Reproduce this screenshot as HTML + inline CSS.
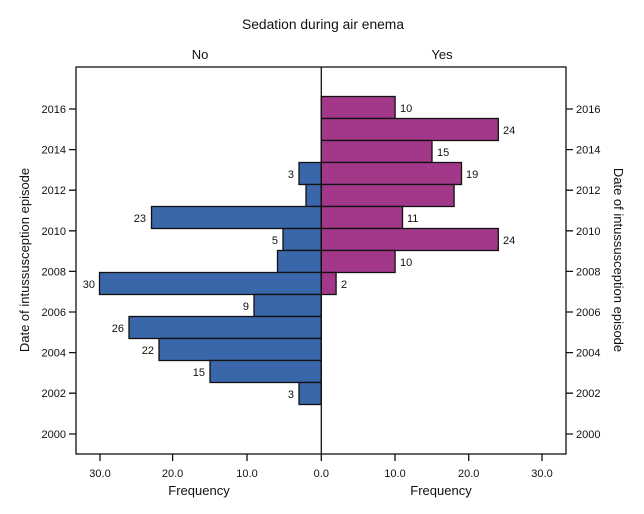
<!DOCTYPE html>
<html><head><meta charset="utf-8"><style>body{margin:0;background:#fff}svg{display:block}text{font-family:"Liberation Sans",sans-serif;fill:#111}</style></head><body>
<svg width="644" height="514" viewBox="0 0 644 514" xmlns="http://www.w3.org/2000/svg">
<text x="242" y="29" font-size="13.5" textLength="162" lengthAdjust="spacingAndGlyphs">Sedation during air enema</text>
<text x="200" y="59" font-size="13" text-anchor="middle">No</text>
<text x="442" y="59" font-size="13" text-anchor="middle">Yes</text>
<g stroke="#111" stroke-width="1.3" fill="#3a66aa">
<rect x="299" y="162.5" width="22.3" height="22"/>
<rect x="306" y="184.5" width="15.3" height="22"/>
<rect x="151.5" y="206.5" width="169.8" height="22"/>
<rect x="283" y="228.5" width="38.3" height="22"/>
<rect x="277.5" y="250.5" width="43.8" height="22"/>
<rect x="99.5" y="272.5" width="221.8" height="22"/>
<rect x="254" y="294.5" width="67.3" height="22"/>
<rect x="129" y="316.5" width="192.3" height="22"/>
<rect x="159" y="338.5" width="162.3" height="22"/>
<rect x="210" y="360.5" width="111.3" height="22"/>
<rect x="299" y="382.5" width="22.3" height="22"/>
</g>
<g stroke="#111" stroke-width="1.3" fill="#a3388a">
<rect x="321.3" y="96.5" width="73.8" height="22"/>
<rect x="321.3" y="118.5" width="177" height="22"/>
<rect x="321.3" y="140.5" width="110.7" height="22"/>
<rect x="321.3" y="162.5" width="140.2" height="22"/>
<rect x="321.3" y="184.5" width="132.8" height="22"/>
<rect x="321.3" y="206.5" width="81.2" height="22"/>
<rect x="321.3" y="228.5" width="177" height="22"/>
<rect x="321.3" y="250.5" width="73.8" height="22"/>
<rect x="321.3" y="272.5" width="14.8" height="22"/>
</g>
<g font-size="11" text-anchor="end">
<text x="294" y="178">3</text><text x="146" y="222">23</text><text x="278" y="244">5</text>
<text x="95" y="288">30</text><text x="249" y="310">9</text><text x="124" y="332">26</text>
<text x="154" y="354">22</text><text x="205" y="376">15</text><text x="294" y="398">3</text>
</g>
<g font-size="11">
<text x="400" y="112">10</text><text x="503" y="134">24</text><text x="437" y="156">15</text>
<text x="466" y="178">19</text><text x="407" y="222">11</text><text x="503" y="244">24</text>
<text x="400" y="266">10</text><text x="341" y="288">2</text>
</g>
<g stroke="#111" stroke-width="1.3" fill="none">
<rect x="76" y="67" width="490" height="387"/>
<line x1="321.3" y1="67" x2="321.3" y2="454"/>
<path d="M100 454v7M172.6 454v7M247 454v7M321.3 454v7M395 454v7M468.7 454v7M542 454v7"/>
<path d="M69 109h7M69 149.6h7M69 190.2h7M69 230.8h7M69 271.4h7M69 312h7M69 352.6h7M69 393.2h7M69 434h7"/>
<path d="M566 109h7M566 149.6h7M566 190.2h7M566 230.8h7M566 271.4h7M566 312h7M566 352.6h7M566 393.2h7M566 434h7"/>
</g>
<g font-size="11" text-anchor="middle">
<text x="100" y="477">30.0</text><text x="172.6" y="477">20.0</text><text x="247" y="477">10.0</text><text x="321.3" y="477">0.0</text>
<text x="395" y="477">10.0</text><text x="468.7" y="477">20.0</text><text x="542" y="477">30.0</text>
</g>
<text x="199" y="495" font-size="13" text-anchor="middle">Frequency</text>
<text x="441" y="495" font-size="13" text-anchor="middle">Frequency</text>
<g font-size="11" text-anchor="end">
<text x="66" y="113">2016</text><text x="66" y="153.6">2014</text><text x="66" y="194.2">2012</text><text x="66" y="234.8">2010</text><text x="66" y="275.4">2008</text><text x="66" y="316">2006</text><text x="66" y="356.6">2004</text><text x="66" y="397.2">2002</text><text x="66" y="438">2000</text>
</g>
<g font-size="11">
<text x="576" y="113">2016</text><text x="576" y="153.6">2014</text><text x="576" y="194.2">2012</text><text x="576" y="234.8">2010</text><text x="576" y="275.4">2008</text><text x="576" y="316">2006</text><text x="576" y="356.6">2004</text><text x="576" y="397.2">2002</text><text x="576" y="438">2000</text>
</g>
<text transform="translate(29,260) rotate(-90)" font-size="13" text-anchor="middle">Date of intussusception episode</text>
<text transform="translate(614,260) rotate(90)" font-size="13" text-anchor="middle">Date of intussusception episode</text>
</svg>
</body></html>
